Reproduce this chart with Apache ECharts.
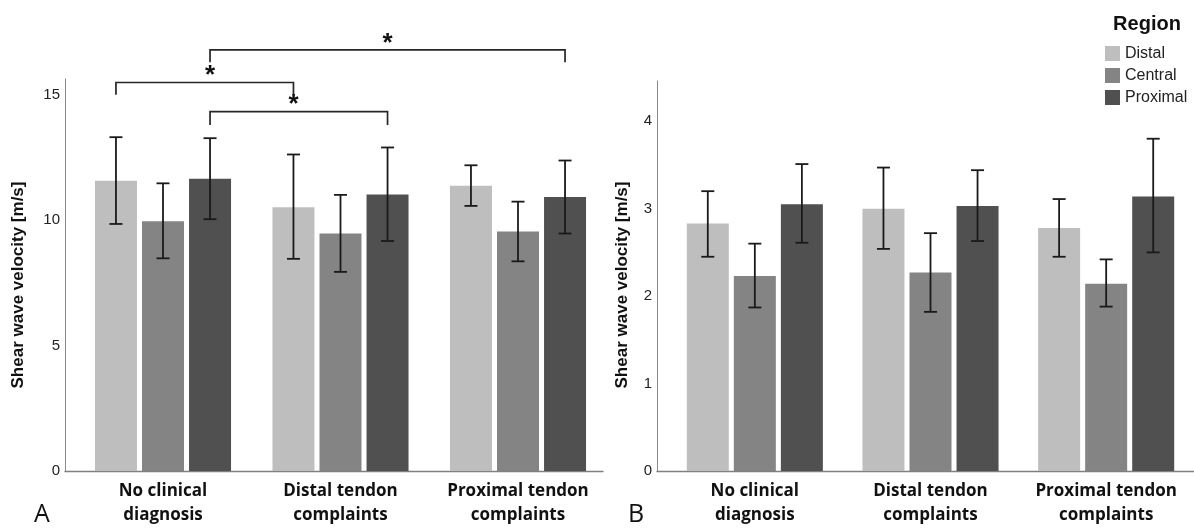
<!DOCTYPE html>
<html>
<head>
<meta charset="utf-8">
<title>Shear wave velocity by region</title>
<script src="https://cdn.jsdelivr.net/npm/echarts@6/dist/echarts.min.js"></script>
<style>
    html, body { margin: 0; padding: 0; background: #fff; }
    #swvChart { width: 1194px; height: 528px; }
</style>
</head>
<body>
<div id="swvChart"></div>
<script>
// categories and regions
var categories = ['No clinical\ndiagnosis', 'Distal tendon\ncomplaints', 'Proximal tendon\ncomplaints'];
var regions = ['Distal', 'Central', 'Proximal'];

// panel A: mean and error bar [low, high], m/s
var aDistal = [11.57, 10.52, 11.37];
var aCentral = [9.96, 9.47, 9.55];
var aProximal = [11.65, 11.02, 10.93];
var aDistalErr = [[9.85, 13.31], [8.46, 12.62], [10.57, 12.19]];
var aCentralErr = [[8.48, 11.47], [7.94, 11.01], [8.36, 10.74]];
var aProximalErr = [[10.04, 13.27], [9.17, 12.90], [9.47, 12.38]];
// significance brackets: [fromCategory, fromRegion, toCategory, toRegion, lineLevel, legLevel, starPos]
var aBrackets = [[0, 0, 1, 0, 15.49, 15.0, 0.53], [0, 2, 1, 2, 14.33, 13.8, 0.47], [0, 2, 2, 2, 16.79, 16.3, 0.5]];

// panel B
var bDistal = [2.83, 3.00, 2.78];
var bCentral = [2.23, 2.27, 2.14];
var bProximal = [3.05, 3.03, 3.14];
var bDistalErr = [[2.45, 3.20], [2.54, 3.47], [2.45, 3.11]];
var bCentralErr = [[1.87, 2.60], [1.82, 2.72], [1.88, 2.42]];
var bProximalErr = [[2.61, 3.51], [2.63, 3.44], [2.50, 3.80]];

// axes
var aMax = 15.63, aStep = 5;
var bMax = 4.46, bStep = 1;

var colors = ['#bebebe', '#848484', '#505050'];
var BAR_W = 42, BAR_STEP = 47.04, CAP = 6.5;
var numFont = 'Liberation Sans';
var catFont = 'Open Sans';

var swvChart = echarts.init(document.getElementById('swvChart'));

function errData(list) {
    var out = [];
    list.forEach(function (errs, k) {
        errs.forEach(function (e, i) {
            out.push([i, e[0], e[1], k]);
        });
    });
    return out;
}

function errorBarItem(params, api) {
    var cat = api.value(0);
    var dx = (api.value(3) - 1) * BAR_STEP;
    var lo = api.coord([cat, api.value(1)]);
    var hi = api.coord([cat, api.value(2)]);
    var x = lo[0] + dx;
    var st = { stroke: '#1a1a1a', lineWidth: 1.8 };
    return {
        type: 'group',
        children: [
            { type: 'line', shape: { x1: x, y1: hi[1], x2: x, y2: lo[1] }, style: st },
            { type: 'line', shape: { x1: x - CAP, y1: hi[1], x2: x + CAP, y2: hi[1] }, style: st },
            { type: 'line', shape: { x1: x - CAP, y1: lo[1], x2: x + CAP, y2: lo[1] }, style: st }
        ]
    };
}

function bracketItem(params, api) {
    var p1 = api.coord([api.value(0), api.value(4)]);
    var p2 = api.coord([api.value(2), api.value(4)]);
    var leg = api.coord([api.value(0), api.value(5)]);
    var x1 = p1[0] + (api.value(1) - 1) * BAR_STEP;
    var x2 = p2[0] + (api.value(3) - 1) * BAR_STEP;
    var sx = x1 + (x2 - x1) * api.value(6);
    return {
        type: 'group',
        children: [
            {
                type: 'polyline',
                shape: { points: [[x1, leg[1]], [x1, p1[1]], [x2, p1[1]], [x2, leg[1]]] },
                style: { stroke: '#262626', lineWidth: 1.7, fill: null }
            },
            {
                type: 'text',
                style: {
                    text: '*', x: sx, y: p1[1] - 6.5,
                    fontSize: 26, fontWeight: 'bold', fontFamily: numFont, fill: '#111',
                    align: 'center', verticalAlign: 'middle',
                    textAlign: 'center', textVerticalAlign: 'middle'
                }
            }
        ]
    };
}

function frameX(gridIndex) {
    return {
        type: 'category', gridIndex: gridIndex, data: categories,
        axisLine: { show: true, lineStyle: { color: '#808080', width: 1.3 } },
        axisTick: { show: false }, axisLabel: { show: false }, splitLine: { show: false }
    };
}
function frameY(gridIndex, max, step) {
    return {
        type: 'value', gridIndex: gridIndex, min: 0, max: max, interval: step,
        axisLine: { show: true, lineStyle: { color: '#8a8a8a', width: 1 } },
        axisTick: { show: false }, splitLine: { show: false },
        axisLabel: {
            margin: 5, color: '#222', fontSize: 15, fontFamily: numFont,
            formatter: function (v) { return Math.abs(v / step - Math.round(v / step)) < 1e-6 ? String(v) : ''; }
        }
    };
}
function barX(gridIndex) {
    return {
        type: 'category', gridIndex: gridIndex, data: categories,
        axisLine: { show: false }, axisTick: { show: false }, splitLine: { show: false },
        axisLabel: {
            interval: 0, margin: 8, color: '#111', fontSize: 17, fontWeight: 'bold',
            fontFamily: catFont, lineHeight: 24
        }
    };
}
function barY(gridIndex, max) {
    return { type: 'value', gridIndex: gridIndex, min: 0, max: max, show: false };
}
function barSeries(name, values, axisIndex, k) {
    return {
        name: name, type: 'bar', xAxisIndex: axisIndex, yAxisIndex: axisIndex,
        data: values, barWidth: BAR_W, barGap: '12%',
        itemStyle: { color: colors[k] }, silent: true
    };
}
function errSeries(list, axisIndex) {
    return {
        type: 'custom', xAxisIndex: axisIndex, yAxisIndex: axisIndex,
        data: errData(list), encode: { x: 0, y: [1, 2] },
        renderItem: errorBarItem, z: 5, silent: true
    };
}

var option = {
    animation: false,
    backgroundColor: '#fff',
    grid: [
        { left: 65, right: 591, top: 79, bottom: 57 },        // A frame
        { left: 74.25, right: 587.25, top: 79, bottom: 57 },  // A bars
        { left: 657, right: 0, top: 81, bottom: 57 },         // B frame
        { left: 667, right: -8.5, top: 81, bottom: 57 }       // B bars
    ],
    xAxis: [frameX(0), barX(1), frameX(2), barX(3)],
    yAxis: [frameY(0, aMax, aStep), barY(1, aMax), frameY(2, bMax, bStep), barY(3, bMax)],
    legend: {
        data: regions, orient: 'vertical', left: 1100, top: 40.5,
        icon: 'rect', itemWidth: 15, itemHeight: 15, itemGap: 6,
        selectedMode: false,
        textStyle: { fontSize: 16, fontFamily: numFont, color: '#222', lineHeight: 15 }
    },
    graphic: [
        {
            type: 'text', x: 1147, y: 24,
            style: { text: 'Region', fontSize: 20, fontWeight: 'bold', fontFamily: numFont, fill: '#111',
                align: 'center', verticalAlign: 'middle', textAlign: 'center', textVerticalAlign: 'middle' }
        },
        {
            type: 'text', x: 18, y: 285, rotation: Math.PI / 2,
            style: { text: 'Shear wave velocity [m/s]', fontSize: 17, fontWeight: 'bold', fontFamily: numFont, fill: '#111',
                align: 'center', verticalAlign: 'middle', textAlign: 'center', textVerticalAlign: 'middle' }
        },
        {
            type: 'text', x: 622, y: 285, rotation: Math.PI / 2,
            style: { text: 'Shear wave velocity [m/s]', fontSize: 17, fontWeight: 'bold', fontFamily: numFont, fill: '#111',
                align: 'center', verticalAlign: 'middle', textAlign: 'center', textVerticalAlign: 'middle' }
        },
        {
            type: 'text', x: 42, y: 515,
            style: { text: 'A', fontSize: 25, fontFamily: catFont, fill: '#111',
                align: 'center', verticalAlign: 'middle', textAlign: 'center', textVerticalAlign: 'middle' }
        },
        {
            type: 'text', x: 636, y: 515,
            style: { text: 'B', fontSize: 25, fontFamily: catFont, fill: '#111',
                align: 'center', verticalAlign: 'middle', textAlign: 'center', textVerticalAlign: 'middle' }
        }
    ],
    series: [
        barSeries(regions[0], aDistal, 1, 0),
        barSeries(regions[1], aCentral, 1, 1),
        barSeries(regions[2], aProximal, 1, 2),
        errSeries([aDistalErr, aCentralErr, aProximalErr], 1),
        {
            type: 'custom', xAxisIndex: 1, yAxisIndex: 1, data: aBrackets,
            encode: { x: [0, 2], y: [4, 5] }, renderItem: bracketItem, clip: false, z: 6, silent: true
        },
        barSeries(regions[0], bDistal, 3, 0),
        barSeries(regions[1], bCentral, 3, 1),
        barSeries(regions[2], bProximal, 3, 2),
        errSeries([bDistalErr, bCentralErr, bProximalErr], 3)
    ]
};

swvChart.setOption(option);
</script>
</body>
</html>
